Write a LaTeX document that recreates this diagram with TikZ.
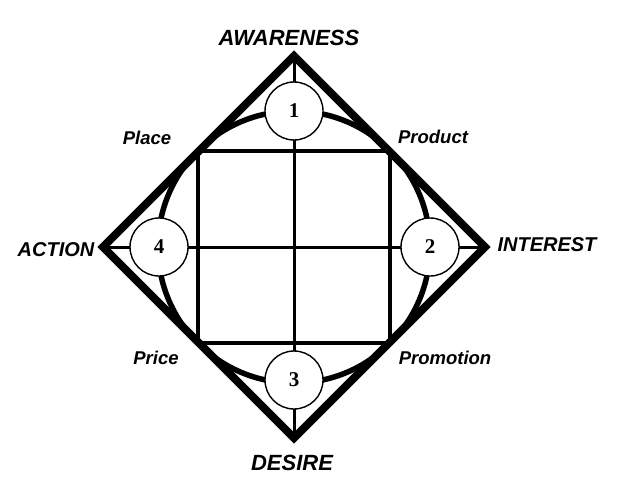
\documentclass[tikz,border=0pt]{standalone}
\usepackage{fontspec}
\setmainfont{Liberation Sans}
\newfontfamily\numfont{Liberation Serif}

\begin{document}
\begin{tikzpicture}[x=1pt, y=-1pt,
    frame/.style={line width=8pt, line join=miter},
    ring/.style={line width=5.5pt},
    box/.style={line width=4.5pt},
    axis/.style={line width=3pt},
    stage/.style={circle, draw, line width=1.4pt, fill=white, minimum size=58pt, inner sep=0pt, font=\numfont\bfseries\fontsize{21}{21}\selectfont},
    heading/.style={font=\bfseries\itshape\fontsize{22}{24}\selectfont},
    mix/.style={font=\bfseries\itshape\fontsize{18.5}{20}\selectfont}]

    \useasboundingbox (0,0) rectangle (620,500);

    % diamond corners and centre
    \coordinate (c) at (294,247);
    \coordinate (top) at (294,56);
    \coordinate (right) at (485,247);
    \coordinate (bottom) at (294,438);
    \coordinate (left) at (103,247);

    \draw [frame] (top) -- (right) -- (bottom) -- (left) -- cycle;
    \draw [ring] (c) circle [radius=136pt];
    \draw [box] (198,151) rectangle (390,343);
    \draw [axis] (top) -- (bottom);
    \draw [axis] (left) -- (right);

    \node [stage] (s1) at (294,111) {1};
    \node [stage] (s2) at (430,247) {2};
    \node [stage] (s3) at (294,380) {3};
    \node [stage] (s4) at (159,247) {4};

    \node [heading] (awareness) at (289,38) {AWARENESS};
    \node [heading, font=\bfseries\itshape\fontsize{20}{22}\selectfont] (interest) at (547,245) {INTEREST};
    \node [heading] (desire) at (292,463) {DESIRE};
    \node [heading, font=\bfseries\itshape\fontsize{20}{22}\selectfont] (action) at (56,250) {ACTION};

    \node [mix] (place) at (147,138) {Place};
    \node [mix] (product) at (433,137) {Product};
    \node [mix] (price) at (156,358) {Price};
    \node [mix] (promotion) at (445,358) {Promotion};
\end{tikzpicture}
\end{document}
